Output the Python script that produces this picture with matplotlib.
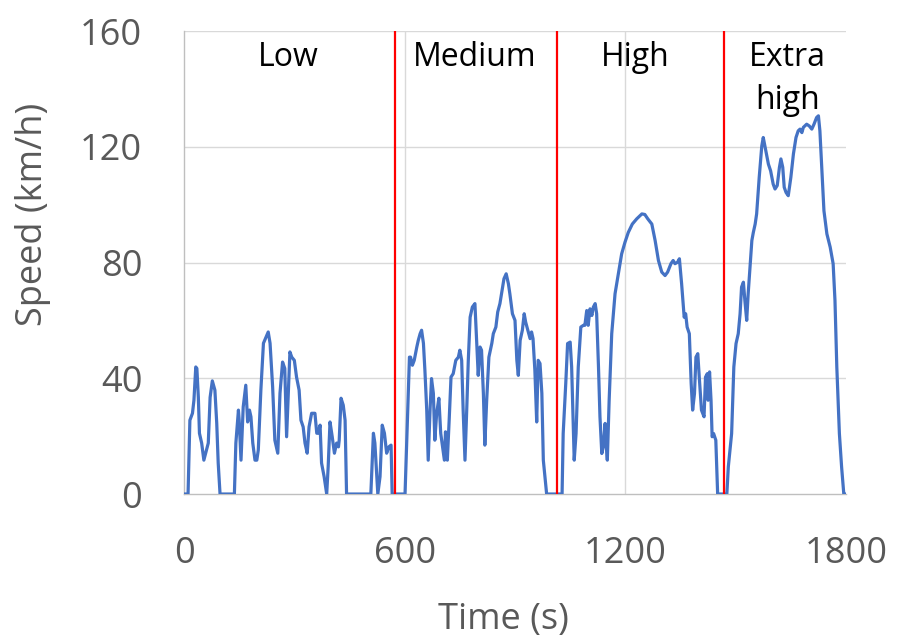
import matplotlib
matplotlib.use("Agg")
import matplotlib.pyplot as plt

# speed trace (time in s, speed in km/h)
time_s = [0, 11, 16, 23, 27, 32, 35, 39, 42, 48, 54, 59, 66, 71, 77, 84, 89, 93, 98,
          137, 141, 148, 150, 155, 161, 168, 173, 178, 182, 187, 193, 198, 202, 209,
          216, 223, 229, 234, 241, 247, 255, 261, 268, 274, 279, 288, 293, 300, 306,
          313, 318, 324, 329, 335, 340, 347, 356, 361, 365, 370, 374, 381, 388, 392,
          397, 403, 409, 415, 420, 422, 427, 433, 438, 442, 508, 515, 519, 527, 533,
          539, 545, 551, 557, 563, 566, 601,
          607, 613, 616, 621, 626, 633, 637, 642, 646, 651, 655, 660, 664, 669, 673,
          678, 682, 687, 693, 698, 703, 708, 711, 716, 721, 726, 732, 739, 746, 750,
          755, 759, 764, 769, 773, 778, 784, 791, 796, 800, 805, 809, 814, 818, 823,
          829, 837, 841, 848, 853, 859, 864, 870, 876, 882, 886, 893, 900, 905, 909,
          914, 920, 925, 929, 935, 941, 945, 949, 954, 959, 963, 968, 973, 977, 986,
          1028,
          1031, 1038, 1043, 1050, 1054, 1059, 1061, 1066, 1072, 1079, 1086, 1090,
          1095, 1099, 1104, 1109, 1113, 1118, 1122, 1127, 1131, 1136, 1140, 1145,
          1147, 1151, 1156, 1163, 1172, 1181, 1190, 1199, 1208, 1219, 1231, 1245,
          1253, 1261, 1272, 1281, 1290, 1299, 1308, 1315, 1324, 1330, 1335, 1342,
          1347, 1353, 1360, 1364, 1368, 1374, 1379, 1383, 1388, 1392, 1397, 1401,
          1407, 1414, 1418, 1423, 1425, 1429, 1433, 1436, 1440, 1446, 1451, 1476,
          1480, 1489, 1495, 1501, 1507, 1512, 1516, 1521, 1525, 1530, 1534, 1544,
          1548, 1553, 1557, 1564, 1571, 1575, 1582, 1589, 1595, 1602, 1607, 1613,
          1619, 1623, 1628, 1632, 1637, 1643, 1650, 1657, 1664, 1670, 1675, 1680,
          1684, 1693, 1700, 1707, 1713, 1720, 1725, 1729, 1734, 1740, 1748, 1757,
          1765, 1770, 1775, 1782, 1788, 1794, 1800]
speed_kmh = [0, 0, 25.5, 27.9, 32.4, 43.9, 43.4, 33.4, 21.0, 17.6, 11.7, 14.1, 17.6,
             33.4, 39.1, 35.9, 24.5, 10.7, 0,
             0, 17.6, 29.0, 25.5, 11.7, 30.1, 37.6, 24.9, 29.0, 26.7, 17.6, 11.7, 11.7,
             15.2, 35.9, 52.1, 54.2, 56.0, 52.1, 37.0, 18.6, 14.1, 34.8, 45.6, 43.4,
             19.8, 49.1, 47.3, 46.2, 40.4, 35.9, 25.5, 23.2, 17.6, 14.1, 23.2, 27.9,
             27.9, 21.0, 21.0, 23.8, 10.7, 6.0, 0, 9.4, 24.9, 19.8, 14.1, 17.6, 16.3,
             18.6, 33.1, 30.7, 25.5, 0, 0, 21.0, 17.6, 0, 6.0, 23.8, 21.0, 14.1, 16.3,
             16.9, 0, 0,
             23.2, 47.3, 47.3, 44.5, 46.2, 50.8, 53.1, 55.4, 56.6, 52.1, 42.8, 29.0,
             11.7, 29.0, 39.9, 34.8, 18.6, 27.9, 33.1, 21.0, 16.3, 11.7, 21.5, 11.7,
             25.5, 40.4, 41.6, 46.2, 47.3, 49.7, 46.2, 29.0, 11.7, 30.1, 46.2, 61.1,
             64.6, 65.8, 52.1, 41.0, 50.8, 49.7, 34.8, 16.9, 32.4, 47.3, 52.1, 55.4,
             57.7, 62.9, 65.8, 69.8, 74.4, 76.1, 72.7, 69.2, 62.3, 60.0, 46.2, 41.0,
             53.1, 56.6, 62.3, 59.4, 56.6, 53.7, 56.0, 53.7, 42.8, 24.9, 46.2, 45.1,
             34.8, 11.7, 0, 0,
             20.9, 38.2, 52.0, 52.5, 43.9, 20.9, 11.7, 20.9, 43.9, 57.7, 58.3, 58.3,
             63.4, 58.3, 64.0, 61.7, 64.6, 65.8, 62.3, 43.9, 26.7, 14.0, 16.3, 24.4,
             18.6, 11.7, 32.4, 55.4, 69.2, 76.1, 83.0, 87.0, 90.4, 93.3, 95.1, 96.8,
             96.6, 95.1, 93.3, 87.6, 80.7, 76.7, 75.5, 76.7, 79.6, 80.7, 79.6, 80.1,
             81.3, 72.7, 61.1, 62.3, 57.7, 55.4, 38.2, 29.0, 34.7, 47.3, 48.5, 40.4,
             29.0, 26.7, 40.4, 41.6, 32.4, 42.2, 32.4, 19.8, 20.9, 18.6, 0, 0,
             9.4, 20.9, 43.9, 52.0, 55.4, 62.3, 71.5, 73.2, 66.9, 60.0, 69.2, 87.6,
             90.4, 93.3, 96.8, 109.4, 120.3, 123.2, 118.6, 114.0, 111.7, 107.1, 105.4,
             106.6, 112.9, 115.8, 112.9, 106.0, 104.2, 103.1, 109.4, 117.5, 123.2,
             125.5, 126.1, 124.9, 126.7, 127.8, 127.2, 126.1, 127.8, 130.1, 130.7,
             125.5, 112.9, 97.9, 89.9, 85.3, 79.6, 66.9, 43.9, 20.9, 9.4, 0, 0]

phase_bounds = [574, 1014, 1468]
phase_names = ["Low", "Medium", "High", "Extra\nhigh"]
phase_label_x = [283, 791, 1226, 1640]

x_ticks = [0, 600, 1200, 1800]
y_ticks = [0, 40, 80, 120, 160]

plt.rcParams['font.family'] = ['Open Sans', 'DejaVu Sans']
gray = '#595959'

fig = plt.figure(figsize=(8.98, 6.41), dpi=100)
ax = fig.add_axes([0.2049, 0.2293, 0.7372, 0.7223])

ax.plot(time_s, speed_kmh, color='#4472C4', linewidth=2.3, zorder=3)
for b in phase_bounds:
    ax.axvline(b, color='#FF0000', linewidth=1.6, zorder=4)

for name, xpos in zip(phase_names, phase_label_x):
    ax.text(xpos, 156.5, name, ha='center', va='top', fontsize=23, color='black',
            linespacing=1.4)

ax.set_xlim(0, 1800)
ax.set_ylim(0, 160)
ax.set_xticks(x_ticks)
ax.set_yticks(y_ticks)
ax.grid(True, color='#D9D9D9', linewidth=1, zorder=0)
ax.get_xgridlines()[-1].set_visible(False)
ax.get_xgridlines()[0].set_visible(False)
ax.get_ygridlines()[0].set_visible(False)

for s in ['top', 'right']:
    ax.spines[s].set_visible(False)
for s in ['left', 'bottom']:
    ax.spines[s].set_color('#BFBFBF')
    ax.spines[s].set_linewidth(1)

ax.tick_params(length=0, labelsize=26, labelcolor=gray)
ax.tick_params(axis='y', pad=30)
ax.tick_params(axis='x', pad=30)

ax.set_ylabel('Speed (km/h)', fontsize=26, color=gray, va='center')
ax.yaxis.set_label_coords(-0.228, 0.603)
ax.set_xlabel('Time (s)', fontsize=26, color=gray, va='center')
ax.xaxis.set_label_coords(0.483, -0.272)

fig.savefig('out.png', dpi=100)
